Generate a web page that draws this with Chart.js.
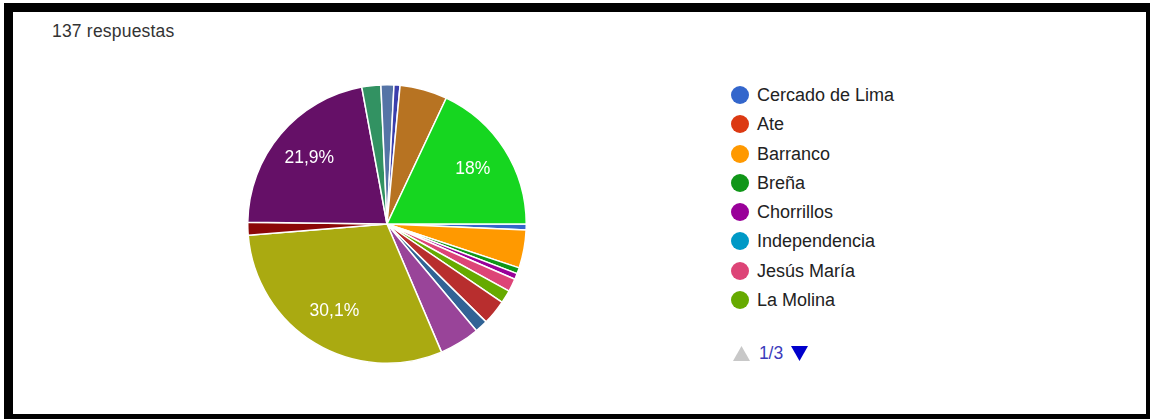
<!DOCTYPE html>
<html lang="es">
<head>
<meta charset="utf-8">
<title>137 respuestas</title>
<script src="https://cdn.jsdelivr.net/npm/chart.js@4.4.1/dist/chart.umd.min.js"></script>
<style>
    html, body {
        margin: 0;
        padding: 0;
        width: 1153px;
        height: 419px;
        background: #fff;
        overflow: hidden;
        font-family: "Liberation Sans", Arial, sans-serif;
    }
    /* marco negro de la captura */
    .frame {
        position: absolute;
        left: 4px;
        top: 3px;
        width: 1133px;
        height: 402px;
        border-style: solid;
        border-color: #000;
        border-width: 9px 4px 5px 9px;
        background: #fff;
    }
    .count {
        position: absolute;
        left: 52px;
        top: 21px;
        font-size: 17.5px;
        color: #333;
        letter-spacing: 0.2px;
    }
    .pie-wrap {
        position: absolute;
        left: 247px;
        top: 84px;
        width: 280px;
        height: 280px;
    }
    .legend {
        position: absolute;
        left: 731px;
        top: 84px;
        margin: 0;
        padding: 0;
        list-style: none;
    }
    .legend li {
        height: 29.3px;
        line-height: 22px;
        font-size: 18px;
        color: #222;
        white-space: nowrap;
    }
    .legend .dot {
        display: inline-block;
        width: 18px;
        height: 18px;
        border-radius: 50%;
        vertical-align: -3px;
        margin-right: 8px;
    }
    .pager {
        position: absolute;
        left: 733px;
        top: 343px;
        font-size: 17.5px;
        color: #3b3bbb;
    }
    .pager svg { vertical-align: -2px; }
</style>
</head>
<body>
<div class="frame"></div>
<div class="count">137 respuestas</div>
<div class="pie-wrap"><canvas id="pie"></canvas></div>
<ul class="legend" id="legend"></ul>
<div class="pager">
    <svg width="17" height="15"><polygon points="8.5,0 17,15 0,15" fill="#c8c8c8"/></svg>
    <span style="margin:0 3px 0 4px">1/3</span>
    <svg width="17" height="15"><polygon points="0,0 17,0 8.5,15" fill="#0000cc"/></svg>
</div>

<script>
// Distritos (orden de la encuesta) y porcentajes
const districts = [
    'Cercado de Lima', 'Ate', 'Barranco', 'Breña', 'Chorrillos', 'Independencia',
    'Jesús María', 'La Molina', 'La Victoria', 'Lince', 'Los Olivos', 'Magdalena del Mar',
    'San Juan de Lurigancho', 'Miraflores', 'Pueblo Libre', 'Rímac', 'San Martín de Porres',
    'San Borja', 'San Isidro', 'San Miguel', 'Santiago de Surco', 'Comas'
];
const shares = [
    0.7, 0, 4.4, 0.7, 0.7, 0,
    1.5, 1.5, 2.9, 1.5, 4.7, 0,
    30.1, 0, 0, 1.5, 21.9,
    2.2, 1.5, 0.7, 5.5, 18.0
];
// paleta por defecto de Google Forms
const palette = [
    '#3366cc', '#dc3912', '#ff9900', '#109618', '#990099', '#0099c6',
    '#dd4477', '#66aa00', '#b82e2e', '#316395', '#994499', '#22aa99',
    '#aaaa11', '#6633cc', '#e67300', '#8b0707', '#651067', '#329262',
    '#5574a6', '#3b3eac', '#b77322', '#16d620'
];
const legendPageSize = 8;

// Etiquetas de porcentaje dentro de las porciones grandes
const sliceLabels = {
    id: 'sliceLabels',
    afterDatasetsDraw(chart) {
        const ctx = chart.ctx;
        const meta = chart.getDatasetMeta(0);
        const data = chart.data.datasets[0].data;
        const total = data.reduce((a, b) => a + b, 0);
        ctx.save();
        ctx.fillStyle = '#fff';
        ctx.font = '17.5px "Liberation Sans", Arial, sans-serif';
        ctx.textAlign = 'center';
        ctx.textBaseline = 'middle';
        meta.data.forEach((arc, i) => {
            const pct = data[i] / total * 100;
            if (pct < 10) return;
            const mid = (arc.startAngle + arc.endAngle) / 2;
            const r = arc.outerRadius * 0.73;
            const txt = (Math.round(pct * 10) / 10).toString().replace('.', ',') + '%';
            ctx.fillText(txt, arc.x + Math.cos(mid) * r, arc.y + Math.sin(mid) * r);
        });
        ctx.restore();
    }
};

new Chart(document.getElementById('pie'), {
    type: 'pie',
    data: {
        labels: districts,
        datasets: [{
            data: shares,
            backgroundColor: palette,
            borderColor: '#fff',
            borderWidth: 1.5
        }]
    },
    options: {
        responsive: true,
        maintainAspectRatio: false,
        animation: false,
        rotation: 90,
        plugins: {
            legend: { display: false },
            tooltip: { enabled: false }
        }
    },
    plugins: [sliceLabels]
});

// Leyenda (primera página)
const legend = document.getElementById('legend');
districts.slice(0, legendPageSize).forEach((name, i) => {
    const li = document.createElement('li');
    li.innerHTML = '<span class="dot" style="background:' + palette[i] + '"></span>' + name;
    legend.appendChild(li);
});
</script>
</body>
</html>
